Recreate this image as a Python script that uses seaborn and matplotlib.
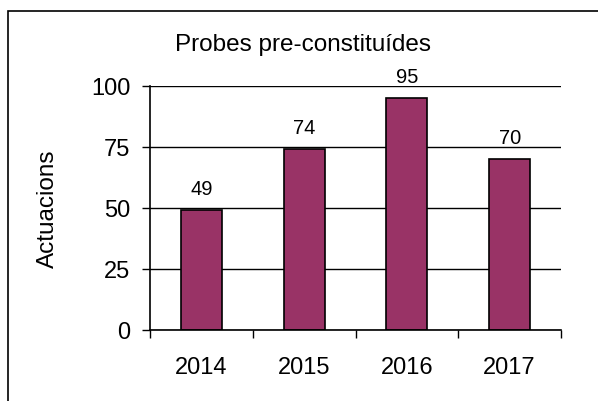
"""Bar chart: Probes pre-constituides per year."""

import matplotlib

matplotlib.use("Agg")
import matplotlib.pyplot as plt
import pandas as pd
import seaborn as sns
from matplotlib.patches import Rectangle

years = ["2014", "2015", "2016", "2017"]
actuacions = [49, 74, 95, 70]
y_ticks = [0, 25, 50, 75, 100]

title = "Probes pre-constituídes"
y_label = "Actuacions"

sns.set_theme(style="white")
plt.rcParams["font.family"] = ["Liberation Sans", "DejaVu Sans"]

df = pd.DataFrame({"year": years, "value": actuacions})

fig = plt.figure(figsize=(5.98, 4.02), dpi=100)
ax = fig.add_axes([150 / 598, 1 - 331 / 402, (561 - 150) / 598, (331 - 87) / 402])

sns.barplot(data=df, x="year", y="value", color="#993366", saturation=1,
            width=0.4, edgecolor="black", linewidth=1.2, ax=ax)
ax.bar_label(ax.containers[0], fmt="%d", padding=9, fontsize=14.5, color="black")

ax.set_xlim(-0.5, len(years) - 0.5)
ax.set_ylim(0, 100)
ax.set_yticks(y_ticks)
ax.yaxis.grid(True, color="black", linewidth=1.0)
ax.set_axisbelow(True)

for side in ["top", "right"]:
    ax.spines[side].set_visible(False)
for side in ["left", "bottom"]:
    ax.spines[side].set_color("black")
    ax.spines[side].set_linewidth(1.2)

ax.tick_params(axis="y", left=True, length=6, width=1.0, color="black",
               pad=8, labelsize=17, labelcolor="black")
ax.tick_params(axis="x", which="major", bottom=False, pad=13,
               labelsize=17, labelcolor="black")
ax.set_xticks([i - 0.5 for i in range(len(years) + 1)], minor=True)
ax.tick_params(axis="x", which="minor", bottom=True, direction="out",
               length=6, width=1.0, color="black")

ax.set_xlabel("")
ax.set_ylabel(y_label, fontsize=17.5, color="black", labelpad=23)

fig.text(0.507, 1 - 51 / 402, title, ha="center", va="baseline",
         fontsize=17.5, color="black")

fig.patches.append(Rectangle((7.5 / 598, -0.1), 1.2, 1.1 - 12 / 402,
                             transform=fig.transFigure, fill=False,
                             edgecolor="black", linewidth=1.2))

fig.savefig("out.png", dpi=100)
plt.close(fig)
